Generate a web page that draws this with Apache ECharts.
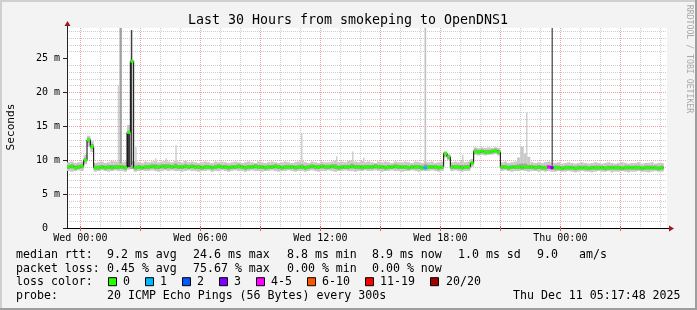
<!DOCTYPE html>
<html><head><meta charset="utf-8">
<script src="https://cdn.jsdelivr.net/npm/echarts@6/dist/echarts.min.js"></script>
<style>html,body{margin:0;padding:0;background:#f3f3f3}#c{width:697px;height:310px}</style>
</head><body><div id="c"></div>
<script>
// ---------- DATA (10-minute slots starting Tue 23:20, 30 hours) ----------
const slotMinutes = 10;
const slotCount = 180;
const startMinuteOfDay = 23 * 60 + 20; // Tue 23:20
const dayNames = ['Tue', 'Wed', 'Thu'];

const tickSlots = [4, 40, 76, 112, 148];
const tickLabels = ['Wed 00:00', 'Wed 06:00', 'Wed 12:00', 'Wed 18:00', 'Thu 00:00'];
const yTickValues = [0, 5, 10, 15, 20, 25];
const yTickLabels = ['0  ', '5 m', '10 m', '15 m', '20 m', '25 m'];

// median rtt (ms) per slot
const median = [
  9.0, 9.1, 8.9, 9.0, 9.1, 10.0, 13.0, 12.0, 8.9, 8.9,
  9.0, 8.9, 9.0, 8.9, 9.0, 9.0, 9.0, 8.9, 14.1, 24.6,
  8.9, 9.0, 8.9, 9.0, 9.0, 9.1, 9.0, 9.0, 9.1, 9.0,
  9.1, 9.0, 9.1, 9.0, 9.0, 9.1, 9.0, 9.1, 9.0, 9.0,
  8.9, 9.0, 9.0, 8.9, 9.0, 9.1, 9.0, 9.0, 8.9, 9.0,
  9.0, 9.1, 9.0, 8.9, 9.0, 9.0, 9.1, 9.0, 9.0, 8.9,
  9.0, 9.0, 9.1, 9.0, 8.9, 9.0, 9.0, 9.0, 8.9, 9.0,
  9.0, 8.9, 9.0, 9.1, 9.0, 9.0, 9.1, 9.0, 9.0, 9.1,
  9.0, 8.9, 9.0, 9.0, 9.0, 9.1, 9.0, 9.0, 8.9, 9.0,
  9.0, 9.0, 9.1, 9.0, 9.0, 8.9, 9.0, 9.0, 9.1, 9.0,
  9.0, 9.0, 8.9, 9.0, 9.0, 9.0, 8.9, 8.9, 9.0, 9.0,
  9.0, 8.9, 9.0, 11.0, 10.5, 9.0, 9.0, 9.0, 8.9, 9.0,
  9.0, 9.6, 11.3, 11.2, 11.3, 11.2, 11.2, 11.3, 11.4, 11.2,
  9.0, 9.0, 8.9, 9.0, 9.0, 9.0, 8.9, 9.0, 9.0, 9.0,
  8.9, 9.0, 8.9, 8.9, 9.0, 8.9, 8.9, 8.9, 8.8, 8.9,
  8.9, 8.9, 8.8, 8.9, 8.9, 8.9, 8.8, 8.9, 8.9, 8.9,
  8.9, 8.8, 8.9, 8.9, 8.9, 8.9, 8.8, 8.9, 8.9, 8.9,
  8.9, 8.9, 8.8, 8.9, 8.9, 8.9, 8.9, 8.8, 8.9, null
];

// outer smoke (min / max ping)
const smokeLo = [
  8.4, 8.3, 8.4, 8.5, 8.4, 9.4, 12.0, 11.2, 8.3, 8.4,
  8.5, 8.4, 8.3, 8.4, 8.5, 8.4, 8.4, 8.3, 8.6, 8.7,
  8.3, 8.4, 8.5, 8.4, 8.4, 8.5, 8.4, 8.3, 8.4, 8.5,
  8.4, 8.5, 8.4, 8.4, 8.3, 8.4, 8.5, 8.4, 8.4, 8.3,
  8.4, 8.4, 8.5, 8.3, 8.4, 8.4, 8.5, 8.4, 8.3, 8.4,
  8.5, 8.4, 8.4, 8.3, 8.4, 8.5, 8.4, 8.4, 8.3, 8.4,
  8.4, 8.5, 8.4, 8.3, 8.4, 8.4, 8.5, 8.4, 8.3, 8.4,
  8.4, 8.3, 8.4, 8.5, 8.4, 8.3, 8.4, 8.4, 8.5, 8.4,
  8.3, 8.4, 8.4, 8.5, 8.4, 8.4, 8.3, 8.4, 8.4, 8.5,
  8.4, 8.4, 8.5, 8.4, 8.3, 8.4, 8.4, 8.5, 8.4, 8.4,
  8.3, 8.4, 8.4, 8.5, 8.4, 8.3, 8.4, 8.4, 8.4, 8.5,
  8.4, 8.3, 8.4, 10.4, 10.0, 8.4, 8.5, 8.4, 8.3, 8.4,
  8.4, 9.0, 10.8, 10.7, 10.8, 10.7, 10.8, 10.8, 10.9, 10.7,
  8.4, 8.5, 8.4, 8.3, 8.4, 8.4, 8.5, 8.4, 8.3, 8.4,
  8.4, 8.3, 8.4, 8.3, 8.4, 8.3, 8.3, 8.4, 8.3, 8.3,
  8.4, 8.3, 8.2, 8.3, 8.4, 8.3, 8.3, 8.2, 8.3, 8.4,
  8.3, 8.3, 8.4, 8.2, 8.3, 8.3, 8.4, 8.3, 8.2, 8.3,
  8.3, 8.4, 8.3, 8.3, 8.2, 8.3, 8.4, 8.3, 8.3, null
];
const smokeHi = [
  9.7, 9.8, 9.6, 9.7, 9.8, 10.8, 13.6, 12.8, 9.6, 9.7,
  9.8, 9.6, 9.7, 9.9, 9.8, 9.8, 9.7, 9.8, 15.2, 9.9,
  9.8, 9.7, 9.6, 9.8, 9.7, 9.8, 9.9, 9.7, 9.8, 9.9,
  9.8, 9.7, 9.9, 9.8, 9.7, 9.9, 9.7, 9.8, 9.7, 9.6,
  9.7, 9.8, 9.7, 9.6, 9.8, 9.7, 9.8, 9.7, 9.6, 9.7,
  9.8, 9.7, 9.6, 9.7, 9.8, 9.7, 9.6, 9.8, 9.7, 9.6,
  9.7, 9.8, 9.7, 9.6, 9.7, 9.8, 9.7, 9.6, 9.7, 9.8,
  9.9, 9.7, 9.6, 9.8, 9.7, 9.6, 9.8, 9.7, 9.7, 9.8,
  9.9, 9.7, 9.8, 9.7, 9.9, 10.0, 9.8, 9.7, 9.9, 9.7,
  9.8, 9.7, 9.6, 9.8, 9.7, 9.8, 9.7, 9.6, 9.8, 9.7,
  9.7, 9.8, 9.7, 9.6, 9.8, 9.7, 9.6, 9.8, 9.7, 9.8,
  9.6, 9.7, 9.8, 11.3, 10.9, 9.7, 9.8, 9.7, 9.9, 9.7,
  9.8, 10.2, 11.9, 11.8, 11.9, 11.8, 11.9, 11.8, 11.9, 11.8,
  9.7, 9.8, 9.6, 9.7, 9.8, 10.4, 12.0, 11.0, 10.5, 9.7,
  9.6, 9.7, 9.6, 9.7, 9.8, 9.7, 9.6, 9.7, 9.5, 9.6,
  9.7, 9.6, 9.5, 9.6, 9.7, 9.6, 9.5, 9.6, 9.7, 9.6,
  9.5, 9.6, 9.7, 9.6, 9.5, 9.6, 9.7, 9.6, 9.5, 9.6,
  9.6, 9.7, 9.5, 9.6, 9.6, 9.7, 9.5, 9.6, 9.6, null
];
// inner smoke (central pings)
const coreLo = [
  8.7, 8.8, 8.6, 8.7, 8.8, 9.7, 12.6, 11.7, 8.6, 8.6,
  8.7, 8.6, 8.7, 8.6, 8.7, 8.7, 8.7, 8.6, 8.9, 8.7,
  8.6, 8.7, 8.6, 8.7, 8.7, 8.8, 8.7, 8.7, 8.8, 8.7,
  8.8, 8.7, 8.8, 8.7, 8.7, 8.8, 8.7, 8.8, 8.7, 8.7,
  8.6, 8.7, 8.7, 8.6, 8.7, 8.8, 8.7, 8.7, 8.6, 8.7,
  8.7, 8.8, 8.7, 8.6, 8.7, 8.7, 8.8, 8.7, 8.7, 8.6,
  8.7, 8.7, 8.8, 8.7, 8.6, 8.7, 8.7, 8.7, 8.6, 8.7,
  8.7, 8.6, 8.7, 8.8, 8.7, 8.7, 8.8, 8.7, 8.7, 8.8,
  8.7, 8.6, 8.7, 8.7, 8.7, 8.8, 8.7, 8.7, 8.6, 8.7,
  8.7, 8.7, 8.8, 8.7, 8.7, 8.6, 8.7, 8.7, 8.8, 8.7,
  8.7, 8.7, 8.6, 8.7, 8.7, 8.7, 8.6, 8.6, 8.7, 8.7,
  8.7, 8.6, 8.7, 10.7, 10.2, 8.7, 8.7, 8.7, 8.6, 8.7,
  8.7, 9.3, 11.0, 10.9, 11.0, 10.9, 10.9, 11.0, 11.1, 10.9,
  8.7, 8.7, 8.6, 8.7, 8.7, 8.7, 8.6, 8.7, 8.7, 8.7,
  8.6, 8.7, 8.6, 8.6, 8.7, 8.6, 8.6, 8.6, 8.5, 8.6,
  8.6, 8.6, 8.5, 8.6, 8.6, 8.6, 8.5, 8.6, 8.6, 8.6,
  8.6, 8.5, 8.6, 8.6, 8.6, 8.6, 8.5, 8.6, 8.6, 8.6,
  8.6, 8.6, 8.5, 8.6, 8.6, 8.6, 8.6, 8.5, 8.6, null
];
const coreHi = [
  9.3, 9.4, 9.2, 9.3, 9.4, 10.3, 13.3, 12.4, 9.2, 9.2,
  9.3, 9.2, 9.3, 9.3, 9.3, 9.3, 9.3, 9.2, 14.1, 9.3,
  9.2, 9.3, 9.2, 9.3, 9.3, 9.4, 9.4, 9.3, 9.4, 9.4,
  9.4, 9.3, 9.5, 9.3, 9.3, 9.4, 9.3, 9.4, 9.3, 9.3,
  9.2, 9.3, 9.3, 9.2, 9.3, 9.4, 9.3, 9.3, 9.2, 9.3,
  9.3, 9.4, 9.3, 9.2, 9.3, 9.3, 9.4, 9.3, 9.3, 9.2,
  9.3, 9.3, 9.4, 9.3, 9.2, 9.3, 9.3, 9.3, 9.2, 9.3,
  9.4, 9.2, 9.3, 9.4, 9.3, 9.3, 9.4, 9.3, 9.3, 9.4,
  9.4, 9.2, 9.3, 9.3, 9.3, 9.5, 9.3, 9.3, 9.3, 9.3,
  9.3, 9.3, 9.4, 9.3, 9.3, 9.2, 9.3, 9.3, 9.4, 9.3,
  9.3, 9.3, 9.2, 9.3, 9.3, 9.3, 9.2, 9.4, 9.3, 9.3,
  9.3, 9.2, 9.3, 11.2, 10.7, 9.3, 9.3, 9.3, 9.3, 9.3,
  9.3, 9.8, 11.6, 11.5, 11.6, 11.5, 11.5, 11.6, 11.7, 11.5,
  9.3, 9.3, 9.2, 9.3, 9.3, 9.4, 9.5, 9.5, 9.3, 9.3,
  9.2, 9.3, 9.2, 9.2, 9.3, 9.2, 9.2, 9.2, 9.1, 9.2,
  9.2, 9.2, 9.1, 9.2, 9.2, 9.2, 9.1, 9.2, 9.2, 9.2,
  9.2, 9.1, 9.2, 9.2, 9.2, 9.2, 9.1, 9.2, 9.2, 9.2,
  9.2, 9.2, 9.1, 9.2, 9.2, 9.2, 9.2, 9.1, 9.2, null
];
// dense (dark) smoke over a whole slot
const darkSlots = [18];
const darkLo = [9.0];
const darkHi = [14.1];

// short outliers: time (in slots from start), duration (slots), low/high ms, share of pings
const spikeAt = [15.21, 15.75, 19.14, 20.46, 26.4, 29.55, 32.49, 70.2, 80.7, 85.5, 88.8, 107.25, 118.5, 137.7, 145.35];
const spikeSpan = [0.4, 0.7, 0.45, 0.45, 0.45, 0.45, 0.45, 0.45, 0.45, 0.45, 0.45, 0.5, 0.45, 0.45, 0.45];
const spikeLo = [9.5, 9.5, 9.0, 9.5, 9.5, 9.5, 9.5, 9.5, 9.5, 9.5, 9.5, 9.5, 9.5, 9.5, 9.0];
const spikeHi = [21.0, 29.5, 29.2, 12.0, 10.3, 10.3, 12.2, 14.0, 10.6, 11.3, 10.4, 29.5, 10.8, 17.0, 29.5];
const spikeShare = [0.15, 0.4, 0.9, 0.15, 0.15, 0.15, 0.15, 0.15, 0.15, 0.15, 0.15, 0.22, 0.15, 0.15, 0.7];

// lost pings (of 20) where not zero
const lossSlots = [107, 144, 145];
const lossCounts = [1, 5, 3];

// loss colour legend
const lossLabels = ['0', '1', '2', '3', '4-5', '6-10', '11-19', '20/20'];
const lossMax = [0, 1, 2, 3, 5, 10, 19, 20];
const lossColors = ['#26ff00', '#00b8ff', '#0059ff', '#7e00ff', '#ff00ff', '#ff5500', '#ff0000', '#a10000'];

const titleText = 'Last 30 Hours from smokeping to OpenDNS1';
const yName = 'Seconds';
const sideText = 'RRDTOOL / TOBI OETIKER';
const legendRows = [
  [['median rtt:', 16], ['9.2 ms avg', 107], ['24.6 ms max', 193], ['8.8 ms min', 287], ['8.9 ms now', 372], ['1.0 ms sd', 458], ['9.0', 537], ['am/s', 579]],
  [['packet loss:', 16], ['0.45 % avg', 107], ['75.67 % max', 193], ['0.00 % min', 287], ['0.00 % now', 372]],
  [['loss color:', 16]],
  [['probe:', 16], ['20 ICMP Echo Pings (56 Bytes) every 300s', 107], ['Thu Dec 11 05:17:48 2025', 513]]
];

// ---------- LAYOUT ----------
const G = { left: 67, top: 28, width: 600, height: 200 };
const rowY = [254.5, 268.5, 282.2, 296.2];
const boxX = [108.5, 145.5, 182.5, 219.5, 256.5, 307.5, 365.5, 430.5];
const boxLabelX = [123, 160, 197, 234, 271, 322, 380, 446];
const MONO = '"DejaVu Sans Mono", "Liberation Mono", monospace';

// categories: one per slot boundary
const categories = [];
for (let i = 0; i <= slotCount; i++) {
  const m = startMinuteOfDay + i * slotMinutes;
  const d = Math.floor(m / 1440), mm = m % 1440;
  categories.push(dayNames[d] + ' ' + String(Math.floor(mm / 60)).padStart(2, '0') + ':' + String(mm % 60).padStart(2, '0'));
}
const hourStep = 60 / slotMinutes;
const isHour = i => i >= tickSlots[0] && (i - tickSlots[0]) % hourStep === 0;
const isMajor = i => i >= tickSlots[0] && (i - tickSlots[0]) % (hourStep * 3) === 0;

const lossBySlot = {};
lossSlots.forEach((s, k) => lossBySlot[s] = lossCounts[k]);
function lossColor(n) {
  for (let k = 0; k < lossMax.length; k++) if (n <= lossMax[k]) return lossColors[k];
  return lossColors[lossColors.length - 1];
}
function shareGray(s) {
  const g = Math.round(235 - 190 * s);
  return 'rgb(' + g + ',' + g + ',' + g + ')';
}

function bandData(lo, hi) {
  const out = [];
  lo.forEach((v, i) => { if (v != null && hi[i] != null) out.push([i, v, hi[i]]); });
  return out;
}
function bandRender(color) {
  return function (params, api) {
    const i = api.value(0);
    const p0 = api.coord([i, api.value(2)]);
    const p1 = api.coord([i + 1, api.value(1)]);
    return { type: 'rect', shape: { x: p0[0], y: p0[1], width: p1[0] - p0[0], height: Math.max(1, p1[1] - p0[1]) }, style: { fill: color } };
  };
}
// x position of a fractional slot time, interpolated between category positions
function slotX(api, t, v) {
  const k = Math.floor(t);
  const a = api.coord([k, v]), b = api.coord([k + 1, v]);
  return [a[0] + (t - k) * (b[0] - a[0]), a[1], b[0] - a[0]];
}

const medianSegData = [];
median.forEach((v, i) => { if (v != null) medianSegData.push([i, v, lossBySlot[i] || 0]); });
const spikeData = spikeAt.map((t, k) => [t, spikeLo[k], spikeHi[k], spikeSpan[k], spikeShare[k]]);

const graphic = [
  { type: 'rect', shape: { x: 0, y: 0, width: 697, height: 2 }, style: { fill: '#cfcfcf' }, silent: true },
  { type: 'rect', shape: { x: 0, y: 0, width: 2, height: 310 }, style: { fill: '#cfcfcf' }, silent: true },
  { type: 'rect', shape: { x: 0, y: 308, width: 697, height: 2 }, style: { fill: '#9e9e9e' }, silent: true },
  { type: 'rect', shape: { x: 695, y: 0, width: 2, height: 310 }, style: { fill: '#9e9e9e' }, silent: true },
  // axis arrows
  { type: 'line', shape: { x1: G.left + 0.5, y1: G.top - 3, x2: G.left + 0.5, y2: G.top }, style: { stroke: '#222', lineWidth: 1 }, silent: true, z: 10 },
  { type: 'polygon', shape: { points: [[G.left + 0.5, G.top - 7], [G.left - 2.5, G.top - 2], [G.left + 3.5, G.top - 2]] }, style: { fill: '#9e1a1a' }, silent: true, z: 10 },
  { type: 'line', shape: { x1: G.left + G.width, y1: G.top + G.height + 0.5, x2: G.left + G.width + 2, y2: G.top + G.height + 0.5 }, style: { stroke: '#000', lineWidth: 1 }, silent: true, z: 10 },
  { type: 'polygon', shape: { points: [[G.left + G.width + 7, G.top + G.height + 0.5], [G.left + G.width + 2, G.top + G.height - 2.5], [G.left + G.width + 2, G.top + G.height + 3.5]] }, style: { fill: '#9e1a1a' }, silent: true, z: 10 },
  // title, axis name, side text
  { type: 'text', x: 348, y: 20.5, silent: true, style: { text: titleText, font: '13.3px ' + MONO, fill: '#000', align: 'center', verticalAlign: 'middle', textAlign: 'center', textVerticalAlign: 'middle' } },
  { type: 'text', x: 11, y: 127, rotation: Math.PI / 2, silent: true, style: { text: yName, font: '11.2px ' + MONO, fill: '#000', align: 'center', verticalAlign: 'middle', textAlign: 'center', textVerticalAlign: 'middle' } },
  { type: 'text', x: 689, y: 59, rotation: -Math.PI / 2, silent: true, style: { text: sideText, font: '8.2px ' + MONO, fill: '#a8a8a8', align: 'center', verticalAlign: 'middle', textAlign: 'center', textVerticalAlign: 'middle' } }
];
legendRows.forEach((row, r) => {
  row.forEach(([t, x]) => graphic.push({ type: 'text', x: x, y: rowY[r], silent: true, style: { text: t, font: '11.6px ' + MONO, fill: '#000', align: 'left', verticalAlign: 'middle', textAlign: 'left', textVerticalAlign: 'middle' } }));
});
lossLabels.forEach((t, k) => {
  graphic.push({ type: 'rect', shape: { x: boxX[k], y: rowY[2] - 4.5, width: 8, height: 8 }, style: { fill: lossColors[k], stroke: '#000', lineWidth: 1 }, silent: true });
  graphic.push({ type: 'text', x: boxLabelX[k], y: rowY[2], silent: true, style: { text: t, font: '11.6px ' + MONO, fill: '#000', align: 'left', verticalAlign: 'middle', textAlign: 'left', textVerticalAlign: 'middle' } });
});

const chart = echarts.init(document.getElementById('c'), null, { renderer: 'canvas' });
chart.setOption({
  animation: false,
  backgroundColor: '#f3f3f3',
  textStyle: { fontFamily: MONO },
  grid: { left: G.left, top: G.top, width: G.width, height: G.height, show: true, backgroundColor: '#ffffff', borderWidth: 0, containLabel: false, outerBoundsMode: 'none' },
  xAxis: [
    {
      type: 'category', data: categories, boundaryGap: false, position: 'bottom',
      axisLine: { show: true, lineStyle: { color: '#000', width: 1 } },
      axisTick: { show: true, inside: false, length: 3, interval: i => isMajor(i), lineStyle: { color: '#e06060' } },
      axisLabel: {
        interval: i => tickSlots.indexOf(i) >= 0, margin: 5, fontSize: 10, color: '#000', fontFamily: MONO,
        formatter: (v, i) => { const k = tickSlots.indexOf(i); return k >= 0 ? tickLabels[k] : ''; }
      },
      splitLine: { show: true, interval: i => isMajor(i), lineStyle: { color: '#f0a0a0', width: 1, type: [1, 1] } }
    },
    {
      type: 'category', data: categories, boundaryGap: false, position: 'bottom',
      axisLine: { show: false },
      axisTick: { show: true, inside: true, length: 2, interval: i => isMajor(i), lineStyle: { color: '#e06060' } },
      axisLabel: { show: false },
      splitLine: { show: true, interval: i => isHour(i) && !isMajor(i), lineStyle: { color: '#cccccc', width: 1, type: [1, 1] } }
    }
  ],
  yAxis: [
    {
      type: 'value', min: 0, max: 29.5, interval: 5, position: 'left',
      axisLine: { show: true, lineStyle: { color: '#222', width: 1 } },
      axisTick: { show: true, length: 4, customValues: yTickValues, lineStyle: { color: '#222' } },
      axisLabel: {
        customValues: yTickValues, margin: 7, fontSize: 10, color: '#000', fontFamily: MONO,
        formatter: v => { const k = yTickValues.indexOf(v); return k >= 0 ? yTickLabels[k] : ''; }
      },
      splitLine: { show: true, showMaxLine: false, lineStyle: { color: '#f0a0a0', width: 1, type: [1, 1] } }
    },
    {
      type: 'value', min: 0, max: 29.5, interval: 1, position: 'left',
      axisLine: { show: false }, axisTick: { show: false }, axisLabel: { show: false },
      splitLine: { show: true, showMaxLine: false, lineStyle: { color: ['rgba(0,0,0,0)', '#cccccc', '#cccccc', '#cccccc', '#cccccc'], width: 1, type: [1, 1] } }
    }
  ],
  series: [
    { type: 'custom', name: 'smoke', xAxisIndex: 0, yAxisIndex: 0, clip: true, silent: true, encode: { x: 0, y: [1, 2] }, renderItem: bandRender('#c8c8c8'), data: bandData(smokeLo, smokeHi), z: 2 },
    {
      type: 'custom', name: 'outliers', xAxisIndex: 0, yAxisIndex: 0, clip: true, silent: true, encode: { x: 0, y: [1, 2] }, z: 3,
      renderItem: function (params, api) {
        const top = slotX(api, api.value(0), api.value(2));
        const bot = slotX(api, api.value(0), api.value(1));
        const w = Math.max(1.2, api.value(3) * top[2]);
        return { type: 'rect', shape: { x: top[0], y: top[1], width: w, height: bot[1] - top[1] }, style: { fill: shareGray(api.value(4)) } };
      },
      data: spikeData
    },
    { type: 'custom', name: 'core', xAxisIndex: 0, yAxisIndex: 0, clip: true, silent: true, encode: { x: 0, y: [1, 2] }, renderItem: bandRender('#a0a0a0'), data: bandData(coreLo, coreHi), z: 4 },
    { type: 'custom', name: 'dense', xAxisIndex: 0, yAxisIndex: 0, clip: true, silent: true, encode: { x: 0, y: [1, 2] }, renderItem: bandRender('#3a3a3a'), data: darkSlots.map((s, k) => [s, darkLo[k], darkHi[k]]), z: 4 },
    { type: 'line', name: 'median', xAxisIndex: 0, yAxisIndex: 0, data: median, step: 'end', symbol: 'none', silent: true, connectNulls: false, lineStyle: { color: '#000', width: 1 }, z: 5 },
    {
      type: 'custom', name: 'median loss', xAxisIndex: 0, yAxisIndex: 0, clip: true, silent: true, encode: { x: 0, y: 1 }, z: 6,
      renderItem: function (params, api) {
        const i = api.value(0);
        const p0 = api.coord([i, api.value(1)]);
        const p1 = api.coord([i + 1, api.value(1)]);
        return { type: 'rect', shape: { x: p0[0], y: p0[1] - 1.5, width: p1[0] - p0[0], height: 3 }, style: { fill: lossColor(api.value(2)) } };
      },
      data: medianSegData
    }
  ],
  graphic: graphic
});
</script></body></html>
